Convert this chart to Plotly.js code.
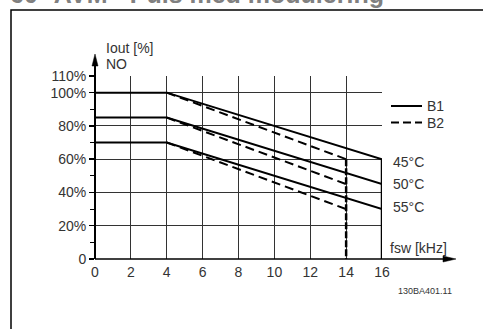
<!DOCTYPE html>
<html>
<head>
<meta charset="utf-8">
<script src="https://cdn.plot.ly/plotly-3.0.1.min.js"></script>
<style>html,body{margin:0;padding:0;background:#fff;}#chart{width:483px;height:329px;}</style>
</head>
<body>
<div id="chart"></div>
<script>
// ---- data ----
const freqB1 = [0, 4, 16];            // kHz
const b1_45 = [100, 100, 60];         // % Iout at 45°C
const b1_50 = [85, 85, 45];
const b1_55 = [70, 70, 30];
const freqB2 = [4, 14];
const b2_45 = [100, 60];
const b2_50 = [85, 45];
const b2_55 = [70, 30];
const xTicks = [0, 2, 4, 6, 8, 10, 12, 14, 16];
const xTickText = ['0', '2', '4', '6', '8', '10', '12', '14', '16'];
const yTicks = [0, 20, 40, 60, 80, 100, 110];
const yTickText = ['0', '20%', '40%', '60%', '80%', '100%', '110%'];
const tempLabels = ['45°C', '50°C', '55°C'];
const seriesNames = ['B1', 'B2'];

// ---- layout helpers (pixel -> paper) ----
const W = 483, H = 329, L = 95, R = 382, T = 76, B = 259;
const pw = R - L, ph = B - T;
const px = x => (x - L) / pw;
const py = y => (B - y) / ph;

const FONT = 'Liberation Sans, Arial, sans-serif';
const TXT = '#333';

const traces = [];
function solid(x, y) {
  traces.push({x: x, y: y, type: 'scatter', mode: 'lines', hoverinfo: 'skip',
    line: {color: '#000', width: 2}, showlegend: false, cliponaxis: false});
}
function dashed(x, y, w, d) {
  traces.push({x: x, y: y, type: 'scatter', mode: 'lines', hoverinfo: 'skip',
    line: {color: '#000', width: w || 2, dash: d || '9px,5px'}, showlegend: false, cliponaxis: false});
}
[b1_45, b1_50, b1_55].forEach(v => solid(freqB1, v));
[b2_45, b2_50, b2_55].forEach(v => dashed(freqB2, v));
// limits
const f1 = freqB1[freqB1.length - 1], f2 = freqB2[freqB2.length - 1];
traces.push({x: [f1, f1], y: [b1_45[b1_45.length - 1], 0], type: 'scatter', mode: 'lines',
  line: {color: '#000', width: 2.5}, showlegend: false, hoverinfo: 'skip', cliponaxis: false});
dashed([f2, f2], [b2_45[b2_45.length - 1], 0], 2.5, '7px,2px');

const shapes = [
  // frame
  {type: 'rect', xref: 'paper', yref: 'paper', x0: px(11), x1: px(495), y0: py(10), y1: py(340),
    line: {color: '#000', width: 1.5}},
  // y axis extension + arrow
  {type: 'line', xref: 'paper', yref: 'paper', x0: px(95), x1: px(95), y0: py(B), y1: py(62),
    line: {color: '#000', width: 2}},
  {type: 'path', xref: 'paper', yref: 'paper',
    path: `M ${px(95)} ${py(54)} L ${px(92)} ${py(66)} L ${px(98)} ${py(66)} Z`,
    fillcolor: '#000', line: {color: '#000', width: 0.5}},
  // x axis extension + arrow
  {type: 'line', xref: 'paper', yref: 'paper', x0: px(L), x1: px(446), y0: py(B), y1: py(B),
    line: {color: '#000', width: 1.5}},
  {type: 'path', xref: 'paper', yref: 'paper',
    path: `M ${px(456)} ${py(B)} L ${px(443)} ${py(B - 3)} L ${px(443)} ${py(B + 3)} Z`,
    fillcolor: '#000', line: {color: '#000', width: 0.5}},
  // legend samples
  {type: 'line', xref: 'paper', yref: 'paper', x0: px(391), x1: px(422), y0: py(106), y1: py(106),
    line: {color: '#000', width: 2}},
  {type: 'line', xref: 'paper', yref: 'paper', x0: px(391), x1: px(422), y0: py(122.5), y1: py(122.5),
    line: {color: '#000', width: 2, dash: '8px,4px'}}
];

function txt(text, x, y, size, opts) {
  return Object.assign({text: text, xref: 'paper', yref: 'paper', x: px(x), y: py(y),
    xanchor: 'left', yanchor: 'middle', showarrow: false,
    font: {family: FONT, size: size, color: TXT}}, opts || {});
}
const annotations = [
  txt('60° AVM - Puls med modulering', 8, 10, 25,
    {yanchor: 'bottom', font: {family: FONT, size: 25, color: '#808080', weight: 'bold'}}),
  txt('Iout [%]', 104, 48, 14),
  txt('NO', 104, 64, 14),
  txt(seriesNames[0], 425, 106, 14),
  txt(seriesNames[1], 425, 122.5, 14),
  txt(tempLabels[0], 391, 162, 14),
  txt(tempLabels[1], 391, 184, 14),
  txt(tempLabels[2], 391, 207, 14),
  txt('fsw [kHz]', 388, 248, 14),
  txt('130BA401.11', 396, 291, 9)
];

const layout = {
  width: W, height: H,
  margin: {l: L, r: W - R, t: T, b: H - B, pad: 0},
  paper_bgcolor: '#fff', plot_bgcolor: '#fff',
  showlegend: false,
  font: {family: FONT, size: 14, color: TXT},
  xaxis: {range: [0, 16], tickmode: 'array', tickvals: xTicks, ticktext: xTickText,
    showgrid: true, gridcolor: '#333', gridwidth: 1, zeroline: false,
    showline: false, ticks: '', ticklabelstandoff: 3,
    tickfont: {family: FONT, size: 14, color: TXT}, fixedrange: true},
  yaxis: {range: [0, 110], tickmode: 'array', tickvals: yTicks, ticktext: yTickText,
    showgrid: true, gridcolor: '#333', gridwidth: 1, zeroline: false,
    showline: false, ticks: 'outside', ticklen: 5, tickcolor: '#000', tickwidth: 1.5,
    minor: {dtick: 10, tick0: 0, ticks: 'outside', ticklen: 4, tickcolor: '#000', tickwidth: 1, showgrid: false},
    tickfont: {family: FONT, size: 14, color: TXT}, fixedrange: true},
  shapes: shapes,
  annotations: annotations
};

Plotly.newPlot('chart', traces, layout, {staticPlot: true, displayModeBar: false});
</script>
</body>
</html>
